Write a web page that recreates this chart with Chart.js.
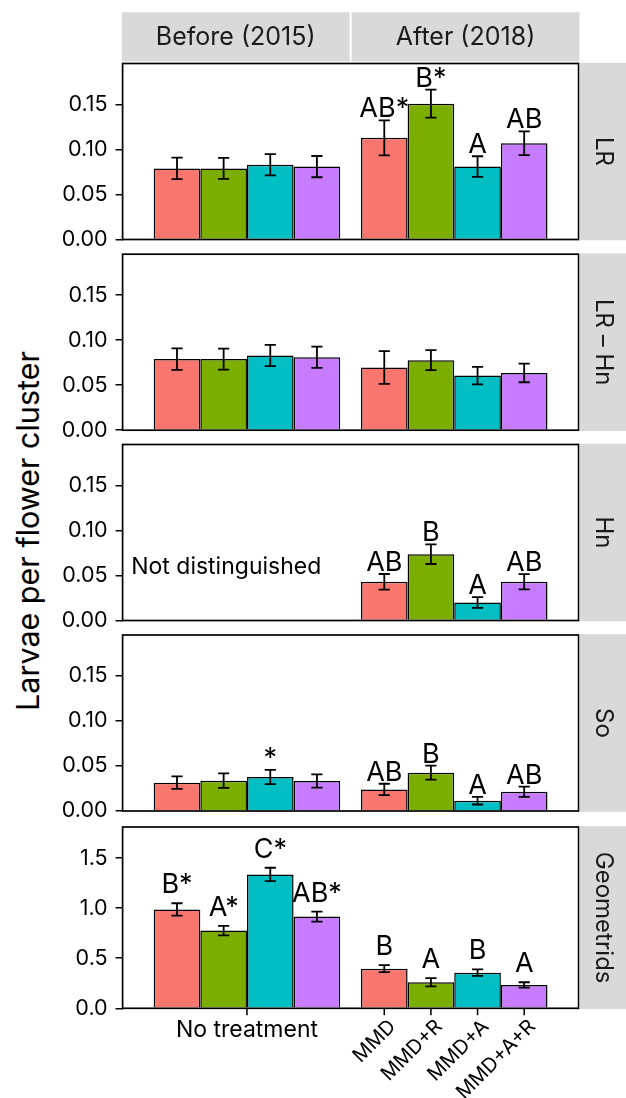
<!DOCTYPE html>
<html><head><meta charset="utf-8">
<script src="https://cdn.jsdelivr.net/npm/chart.js@4.4.1/dist/chart.umd.min.js"></script>
<style>
html,body{margin:0;padding:0;background:#fff;width:626px;height:1098px;overflow:hidden;font-family:Inter,sans-serif;}
canvas{position:absolute;left:0;}
#ytitle{position:absolute;left:27px;top:531px;transform:translate(-50%,-50%) rotate(-90deg);white-space:nowrap;font-size:30.5px;color:#000;font-family:Inter,sans-serif;}
</style></head><body>
<div id="ytitle">Larvae per flower cluster</div>
<script>
// ---------- data ----------
const periods = ['Before (2015)', 'After (2018)'];
const treatments = ['MMD', 'MMD+R', 'MMD+A', 'MMD+A+R'];
const beforeAxisLabel = 'No treatment';
const panelNames = ['LR', 'LR \u2013 Hn', 'Hn', 'So', 'Geometrids'];
const hnNote = 'Not distinguished';
const colors = ['#F8766D', '#7CAE00', '#00BFC4', '#C77CFF'];

const smallTicks = [0, 0.05, 0.10, 0.15];
const geoTicks = [0, 0.5, 1.0, 1.5];

// LR
const lrBefore = [0.079, 0.079, 0.083, 0.081];
const lrBeforeSE = [0.012, 0.0117, 0.0118, 0.0118];
const lrAfter = [0.113, 0.151, 0.081, 0.107];
const lrAfterSE = [0.0195, 0.0155, 0.0115, 0.0132];
const lrBeforeLetters = ['', '', '', ''];
const lrAfterLetters = ['AB*', 'B*', 'A', 'AB'];

// LR - Hn
const lrhnBefore = [0.079, 0.079, 0.083, 0.081];
const lrhnBeforeSE = [0.012, 0.0117, 0.0118, 0.0118];
const lrhnAfter = [0.0696, 0.0778, 0.0607, 0.0637];
const lrhnAfterSE = [0.0182, 0.0111, 0.0097, 0.0104];
const lrhnBeforeLetters = ['', '', '', ''];
const lrhnAfterLetters = ['', '', '', ''];

// Hn
const hnBefore = [null, null, null, null];
const hnBeforeSE = [null, null, null, null];
const hnAfter = [0.043, 0.0737, 0.020, 0.043];
const hnAfterSE = [0.0087, 0.0109, 0.006, 0.0085];
const hnBeforeLetters = ['', '', '', ''];
const hnAfterLetters = ['AB', 'B', 'A', 'AB'];

// So
const soBefore = [0.0315, 0.0337, 0.0378, 0.0333];
const soBeforeSE = [0.007, 0.0081, 0.008, 0.0074];
const soAfter = [0.024, 0.0426, 0.0115, 0.0214];
const soAfterSE = [0.0063, 0.0078, 0.0043, 0.0058];
const soBeforeLetters = ['', '', '*', ''];
const soAfterLetters = ['AB', 'B', 'A', 'AB'];

// Geometrids
const geoBefore = [0.987, 0.776, 1.336, 0.916];
const geoBeforeSE = [0.062, 0.047, 0.067, 0.050];
const geoAfter = [0.396, 0.260, 0.356, 0.233];
const geoAfterSE = [0.035, 0.042, 0.033, 0.027];
const geoBeforeLetters = ['B*', 'A*', 'C*', 'AB*'];
const geoAfterLetters = ['B', 'A', 'B', 'A'];

// ---------- layout / style ----------
const FONT = 'Inter';
const W = 626;
const panels = [
  {name: panelNames[0], before: lrBefore, bse: lrBeforeSE, after: lrAfter, ase: lrAfterSE, bl: lrBeforeLetters, al: lrAfterLetters, ticks: smallTicks, ymax: 0.1956, dec: 2, gap: 3, top: 63.5, bottom: 239.5},
  {name: panelNames[1], before: lrhnBefore, bse: lrhnBeforeSE, after: lrhnAfter, ase: lrhnAfterSE, bl: lrhnBeforeLetters, al: lrhnAfterLetters, ticks: smallTicks, ymax: 0.1956, dec: 2, gap: 3, top: 254.2, bottom: 430.2},
  {name: panelNames[2], before: hnBefore, bse: hnBeforeSE, after: hnAfter, ase: hnAfterSE, bl: hnBeforeLetters, al: hnAfterLetters, ticks: smallTicks, ymax: 0.1956, dec: 2, gap: 3, top: 444.5, bottom: 620.5, note: hnNote},
  {name: panelNames[3], before: soBefore, bse: soBeforeSE, after: soAfter, ase: soAfterSE, bl: soBeforeLetters, al: soAfterLetters, ticks: smallTicks, ymax: 0.1956, dec: 2, gap: 3, top: 635, bottom: 811},
  {name: panelNames[4], before: geoBefore, bse: geoBeforeSE, after: geoAfter, ase: geoAfterSE, bl: geoBeforeLetters, al: geoAfterLetters, ticks: geoTicks, ymax: 1.81, dec: 1, gap: 10, top: 827, bottom: 1008.3, xaxis: true}
];

const panelPlugin = {
  id: 'panelDecor',
  afterDatasetsDraw(chart, args, opts) {
    const p = opts.panel;
    const ctx = chart.ctx;
    const ca = chart.chartArea;
    const ys = chart.scales.y, xs = chart.scales.x;
    ctx.save();
    // error bars + letters
    chart.data.datasets.forEach((ds, i) => {
      const meta = chart.getDatasetMeta(i);
      meta.data.forEach((bar, j) => {
        const v = ds.data[j].y;
        if (v === null || v === undefined) return;
        const se = ds.se[j];
        const yT = ys.getPixelForValue(v + se);
        const yB = ys.getPixelForValue(v - se);
        const half = bar.width * 0.12;
        ctx.strokeStyle = '#000';
        ctx.lineWidth = 1.8;
        ctx.beginPath();
        ctx.moveTo(bar.x, yT); ctx.lineTo(bar.x, yB);
        ctx.moveTo(bar.x - half, yT); ctx.lineTo(bar.x + half, yT);
        ctx.moveTo(bar.x - half, yB); ctx.lineTo(bar.x + half, yB);
        ctx.stroke();
        const lab = ds.letters[j];
        if (lab) {
          ctx.fillStyle = '#000';
          ctx.font = '27px ' + FONT;
          ctx.textAlign = 'center';
          ctx.textBaseline = 'alphabetic';
          ctx.fillText(lab, bar.x, yT - p.gap);
        }
      });
    });
    // note text
    if (p.note) {
      ctx.fillStyle = '#000';
      ctx.font = '23px ' + FONT;
      ctx.textAlign = 'center';
      ctx.textBaseline = 'middle';
      ctx.fillText(p.note, xs.getPixelForValue(-0.1), ys.getPixelForValue(0.059));
    }
    // panel border
    ctx.strokeStyle = '#000';
    ctx.lineWidth = 1.7;
    ctx.strokeRect(ca.left, ca.top, ca.right - ca.left, ca.bottom - ca.top);
    // right strip
    const sx = ca.right + 1;
    ctx.fillStyle = '#D9D9D9';
    ctx.fillRect(sx, ca.top - 0.8, chart.width - sx, ca.bottom - ca.top + 1.6);
    ctx.save();
    ctx.translate((sx + chart.width) / 2, (ca.top + ca.bottom) / 2);
    ctx.rotate(Math.PI / 2);
    ctx.fillStyle = '#1A1A1A';
    ctx.font = '24px ' + FONT;
    ctx.textAlign = 'center';
    ctx.textBaseline = 'middle';
    ctx.fillText(p.name, 0, 0);
    ctx.restore();
    // top strips
    if (opts.topStrips) {
      const mid = xs.getPixelForValue(0.5);
      const segs = [[ca.left - 0.8, mid - 1], [mid + 1, ca.right + 0.8]];
      segs.forEach((s, k) => {
        ctx.fillStyle = '#D9D9D9';
        ctx.fillRect(s[0], 12.3, s[1] - s[0], 49.2);
        ctx.fillStyle = '#1A1A1A';
        ctx.font = '25px ' + FONT;
        ctx.textAlign = 'center';
        ctx.textBaseline = 'middle';
        ctx.fillText(periods[k], (s[0] + s[1]) / 2, 37.5);
      });
    }
    // x axis for bottom panel
    if (p.xaxis) {
      ctx.strokeStyle = '#000';
      ctx.lineWidth = 1.5;
      const tb = ca.bottom;
      const x0 = xs.getPixelForValue(0);
      ctx.beginPath();
      ctx.moveTo(x0, tb); ctx.lineTo(x0, tb + 7);
      chart.data.datasets.forEach((ds, i) => {
        const bar = chart.getDatasetMeta(i).data[1];
        ctx.moveTo(bar.x, tb); ctx.lineTo(bar.x, tb + 7);
      });
      ctx.stroke();
      ctx.fillStyle = '#000';
      ctx.font = '23px ' + FONT;
      ctx.textAlign = 'center';
      ctx.textBaseline = 'alphabetic';
      ctx.fillText(beforeAxisLabel, x0, tb + 29);
      chart.data.datasets.forEach((ds, i) => {
        const bar = chart.getDatasetMeta(i).data[1];
        ctx.save();
        ctx.translate(bar.x + 1, tb + 8);
        ctx.rotate(-Math.PI / 4);
        ctx.font = '20px ' + FONT;
        ctx.textAlign = 'right';
        ctx.textBaseline = 'top';
        ctx.fillText(treatments[i], 0, 0);
        ctx.restore();
      });
    }
    ctx.restore();
  }
};

panels.forEach((p, idx) => {
  const ROOM = 26;
  const canvasTop = idx === 0 ? 0 : Math.floor(p.top) - ROOM;
  const bottomRoom = p.xaxis ? 90 : ROOM;
  const H = Math.ceil(p.bottom) + bottomRoom - canvasTop;
  const cv = document.createElement('canvas');
  cv.width = W; cv.height = H;
  cv.style.top = canvasTop + 'px';
  cv.style.width = W + 'px'; cv.style.height = H + 'px';
  document.body.appendChild(cv);
  const padTop = p.top - canvasTop;
  const padBottom = canvasTop + H - p.bottom;
  new Chart(cv, {
    type: 'bar',
    data: {
      datasets: treatments.map((t, k) => ({
        label: t,
        data: [{x: 0, y: p.before[k]}, {x: 1, y: p.after[k]}],
        se: [p.bse[k], p.ase[k]],
        letters: [p.bl[k], p.al[k]],
        backgroundColor: colors[k],
        borderColor: '#000',
        borderWidth: 1.5,
        categoryPercentage: 0.9,
        barPercentage: 1
      }))
    },
    options: {
      responsive: false,
      animation: false,
      devicePixelRatio: 1,
      layout: {padding: {top: padTop, bottom: padBottom, left: 0, right: W - 578.6}},
      plugins: {
        legend: {display: false},
        tooltip: {enabled: false},
        panelDecor: {panel: p, topStrips: idx === 0}
      },
      scales: {
        x: {
          type: 'linear', min: -0.6, max: 1.6, offset: false, display: false,
          afterBuildTicks: s => { s.ticks = [{value: 0}, {value: 1}]; }
        },
        y: {
          min: 0, max: p.ymax,
          afterBuildTicks: s => { s.ticks = p.ticks.map(v => ({value: v})); },
          afterFit: s => { s.width = 122.6; },
          ticks: {color: '#000', padding: 8, font: {family: FONT, size: 21.5},
                  callback: v => Number(v).toFixed(p.dec)},
          grid: {drawOnChartArea: false, drawTicks: true, tickLength: 7, color: '#000', lineWidth: 1.5},
          border: {display: false}
        }
      }
    },
    plugins: [panelPlugin]
  });
});
</script>
</body></html>
